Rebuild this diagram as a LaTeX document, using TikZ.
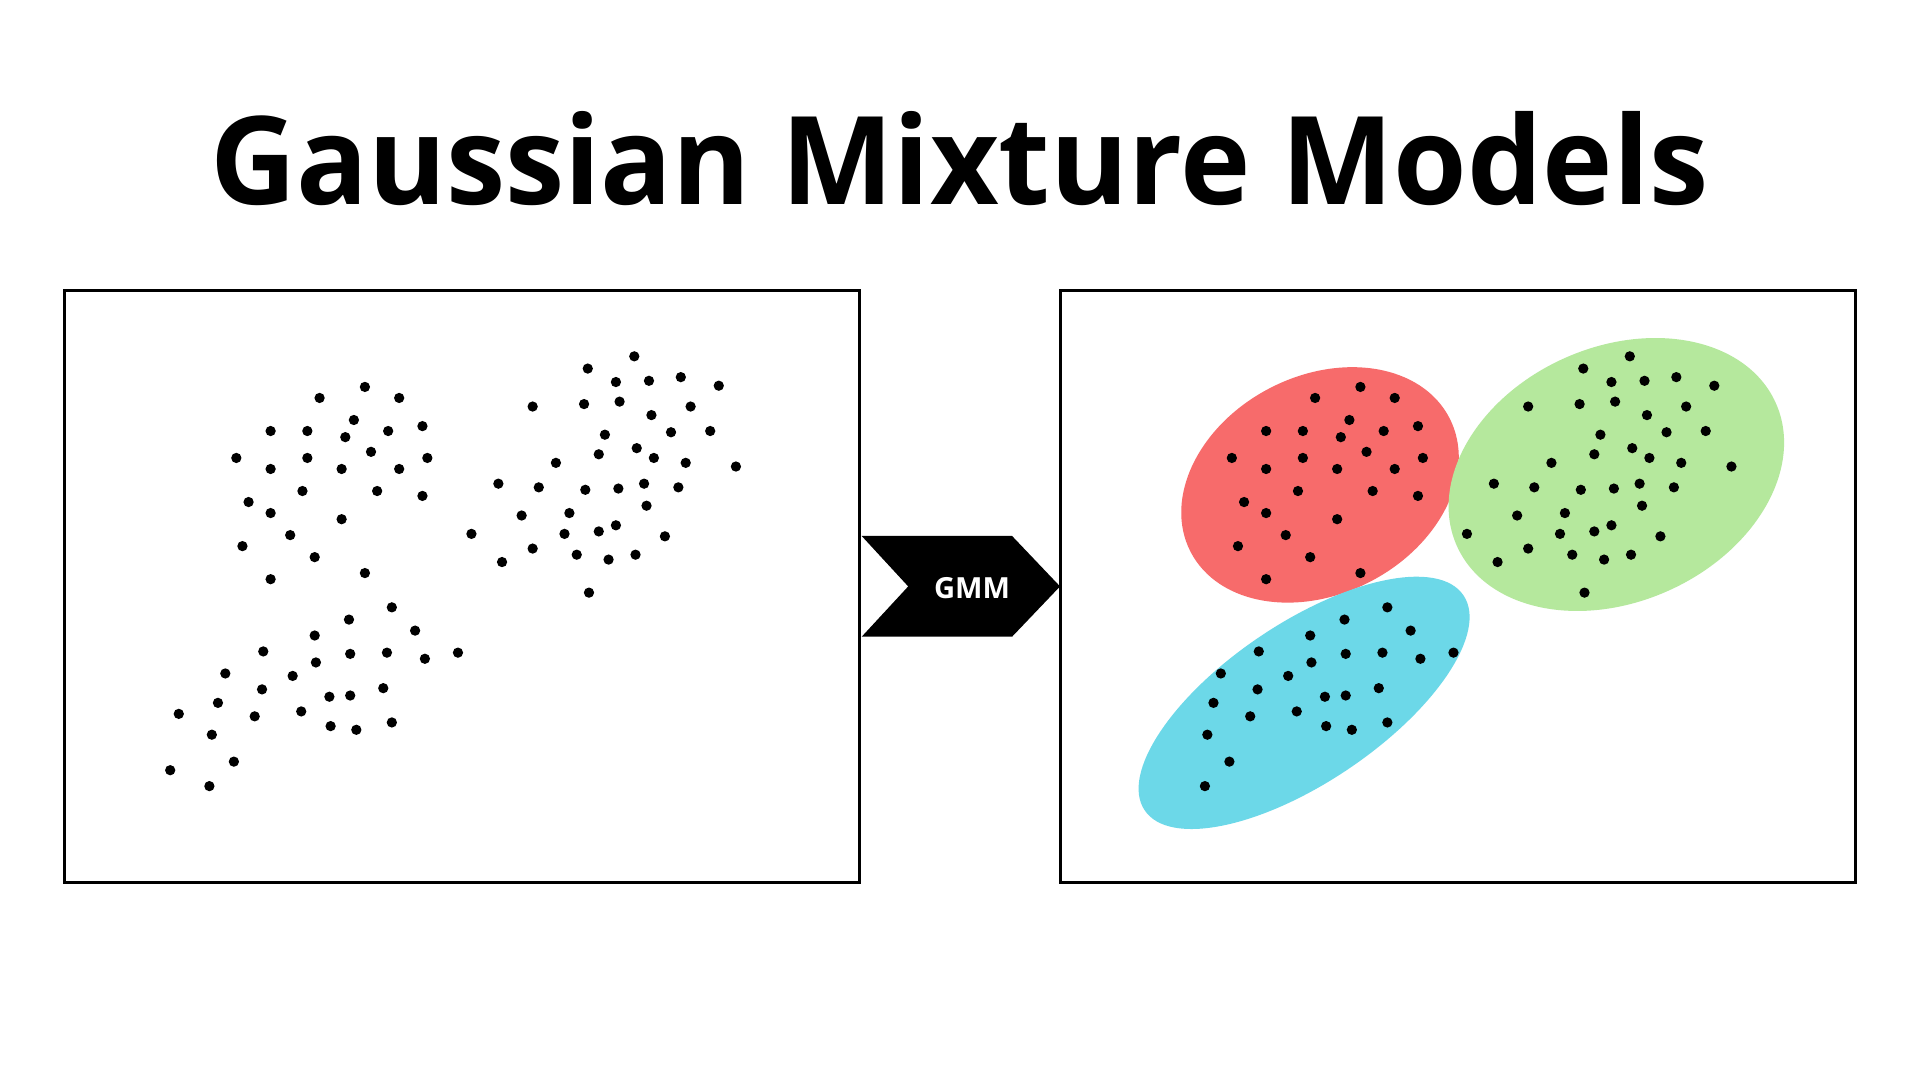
\documentclass[tikz,border=0pt]{standalone}
\usepackage{graphicx}
\usepackage{fontspec}
\setmainfont{Fira Sans}
\newfontfamily\gmmfont{Open Sans}
\definecolor{clred}{HTML}{F76B6B}
\definecolor{clgreen}{HTML}{B5E89D}
\definecolor{clcyan}{HTML}{6CD8E8}
\tikzset{
  dotmark/.style={fill=black},
  panel/.style={draw=black,line width=2.5pt},
}
\begin{document}
\begin{tikzpicture}[x=1pt,y=-1pt]
\useasboundingbox[fill=white] (0,0) rectangle (1568,882);
% title
\node[anchor=base,inner sep=0pt] (title) at (783.5,167.4)
  {\resizebox{1223pt}{76pt}{\gmmfont\bfseries Gaussian Mixture Models}};
% ellipses (right panel)
\fill[clred,rotate around={27.4:(1078,396)}] (1078,396) ellipse [x radius=119,y radius=89];
\fill[clgreen,rotate around={24.2:(1320,387.5)}] (1320,387.5) ellipse [x radius=142.7,y radius=104];
\fill[clcyan,rotate around={34:(1065,574)}] (1065,574) ellipse [x radius=157,y radius=65];
% panels
\draw[panel] (53,237) rectangle (702,721);
\draw[panel] (866,237) rectangle (1515,721);
% arrow
\fill[black] (703.7,437.7) -- (826.5,437.7) -- (865.7,478.9) -- (826.5,520) -- (703.7,520) -- (741.7,478.9) -- cycle;
\node[anchor=base,inner sep=0pt,text=white] (gmm) at (793.8,489)
  {\resizebox{62pt}{!}{\gmmfont\bfseries GMM}};
% dots
\def\common{261/325, 298/316, 326/325, 221/352, 251/352, 289/343, 282/357, 317/352, 345/348, 193/374, 251/374, 303/369, 349/374, 221/383, 279/383, 326/383, 247/401, 308/401, 345/405, 203/410, 221/419, 279/424, 237/437, 198/446, 257/455, 221/473, 298/468,
480/301, 518/291, 503/312, 530/311, 556/308, 587/315, 435/332, 477/330, 506/328, 564/332, 532/339, 494/355, 548/353, 580/352, 489/371, 520/366, 534/374, 560/378, 601/381, 454/378, 407/395, 440/398, 478/400, 505/399, 526/395, 554/398, 528/413, 426/421, 465/419, 503/429, 489/434, 461/436, 385/436, 543/438, 435/448, 471/453, 497/457, 519/453, 410/459, 481/484,
320/496, 285/506, 339/515, 257/519, 215/532, 286/534, 316/533, 347/538, 374/533, 258/541, 184/550, 239/552, 214/563, 313/562, 269/569, 286/568, 178/574, 208/585, 246/581, 270/593, 291/596, 320/590, 173/600, 191/622, 171/642}
\foreach \px/\py in \common {
  \fill[dotmark] (\px,\py) circle[radius=4.2];
  \fill[dotmark] (\px+813,\py) circle[radius=4.2];
}
\foreach \px/\py in {146/583, 139/629} {
  \fill[dotmark] (\px,\py) circle[radius=4.2];
}
\end{tikzpicture}
\end{document}
